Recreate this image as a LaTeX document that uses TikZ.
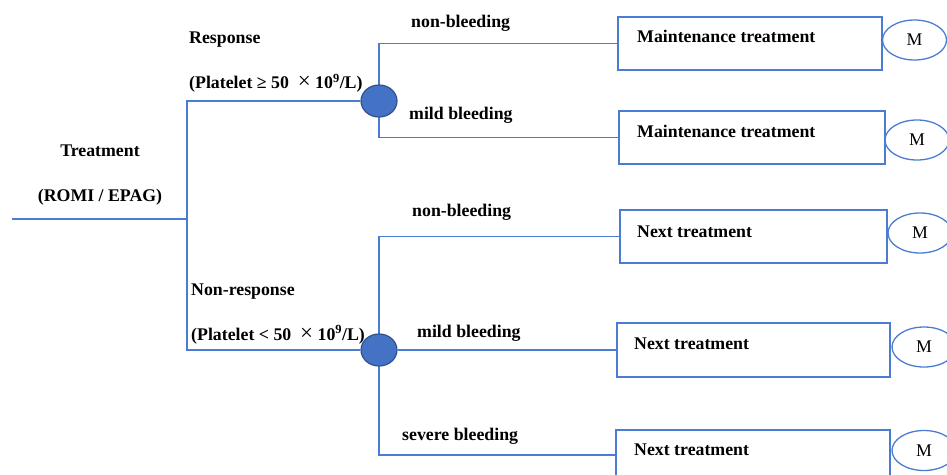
\documentclass[tikz,border=0pt]{standalone}
\usepackage{fontspec}
\setmainfont{Liberation Serif}
\usetikzlibrary{shapes.geometric}
\pgfdeclarelayer{bg}
\pgfsetlayers{bg,main}
\definecolor{lineblue}{HTML}{4A7CD2}
\definecolor{chfill}{HTML}{4472C4}
\definecolor{chdraw}{HTML}{2F528F}
\newcommand{\bigtimes}{{\fontsize{23}{20}\selectfont\mdseries\char"00D7}}
\begin{document}
\begin{tikzpicture}[x=1pt,y=-1pt,
  lbl/.style={anchor=base west,inner sep=0pt,font=\fontsize{17.8}{20}\selectfont\bfseries},
  ctr/.style={anchor=base,inner sep=0pt,font=\fontsize{17.8}{20}\selectfont\bfseries},
  chance/.style={ellipse,draw=chdraw,fill=chfill,line width=1.2pt,minimum width=36pt,minimum height=32pt,inner sep=0pt},
  outbox/.style={draw=lineblue,line width=1.3pt,rectangle,inner sep=0pt},
  markov/.style={ellipse,draw=lineblue,line width=1.3pt,minimum width=64pt,minimum height=40pt,inner sep=0pt,font=\fontsize{17.8}{20}\selectfont},
  conn/.style={draw=lineblue,line width=1.5pt}]
\useasboundingbox (0,0) rectangle (947,474);

% chance nodes
\node[chance] (c1) at (379,101) {};
\node[chance] (c2) at (379,350) {};

% outcome boxes
\node[outbox,minimum width=264pt,minimum height=53pt] (b1) at (750,43.5) {};
\node[outbox,minimum width=266pt,minimum height=53pt] (b2) at (752,137.5) {};
\node[outbox,minimum width=267pt,minimum height=53pt] (b3) at (753.5,236.5) {};
\node[outbox,minimum width=273pt,minimum height=54pt] (b4) at (753.5,350) {};
\node[outbox,minimum width=274pt,minimum height=50pt] (b5) at (753,455) {};

% box texts
\node[lbl] (t1) at (637,42.5) {Maintenance treatment};
\node[lbl] (t2) at (637,137.5) {Maintenance treatment};
\node[lbl] (t3) at (637,237) {Next treatment};
\node[lbl] (t4) at (634,349) {Next treatment};
\node[lbl] (t5) at (634,455) {Next treatment};

% Markov nodes
\node[markov] (m1) at (914.5,40) {M};
\node[markov] (m2) at (917,140) {M};
\node[markov] (m3) at (920,233) {M};
\node[markov] (m4) at (924,347) {M};
\node[markov] (m5) at (924,450.5) {M};

% labels
\node[ctr] (tr) at (100,156) {Treatment};
\node[ctr] (ro) at (100,201.5) {(ROMI / EPAG)};
\node[lbl] (r1) at (189,43) {Response};
\node[lbl] (p1) at (189,88.5) {(Platelet \char"2265\ 50 \ \bigtimes\ 10\textsuperscript{9}/L)};
\node[lbl] (r2) at (191,295) {Non-response};
\node[lbl] (p2) at (191,340) {(Platelet < 50 \ \bigtimes\ 10\textsuperscript{9}/L)};
\node[lbl] (nb1) at (411,27.5) {non-bleeding};
\node[lbl] (mb1) at (409,119) {mild bleeding};
\node[lbl] (nb2) at (412,216.5) {non-bleeding};
\node[lbl] (mb2) at (417,337.5) {mild bleeding};
\node[lbl] (sb) at (402,440) {severe bleeding};

% connectors
\coordinate (s) at (12,219);
\coordinate (j) at (187,219);
\begin{pgfonlayer}{bg}
\draw[conn] (s) -- (j);
\draw[conn] (c1) -| (j) |- (c2);
\draw[conn] (b1.west) -| (c1.center) |- (b2.west);
\draw[conn] (b3.west) -| (c2.center) |- (b5.west);
\draw[conn] (c2) -- (b4.west);
\end{pgfonlayer}
\end{tikzpicture}
\end{document}
